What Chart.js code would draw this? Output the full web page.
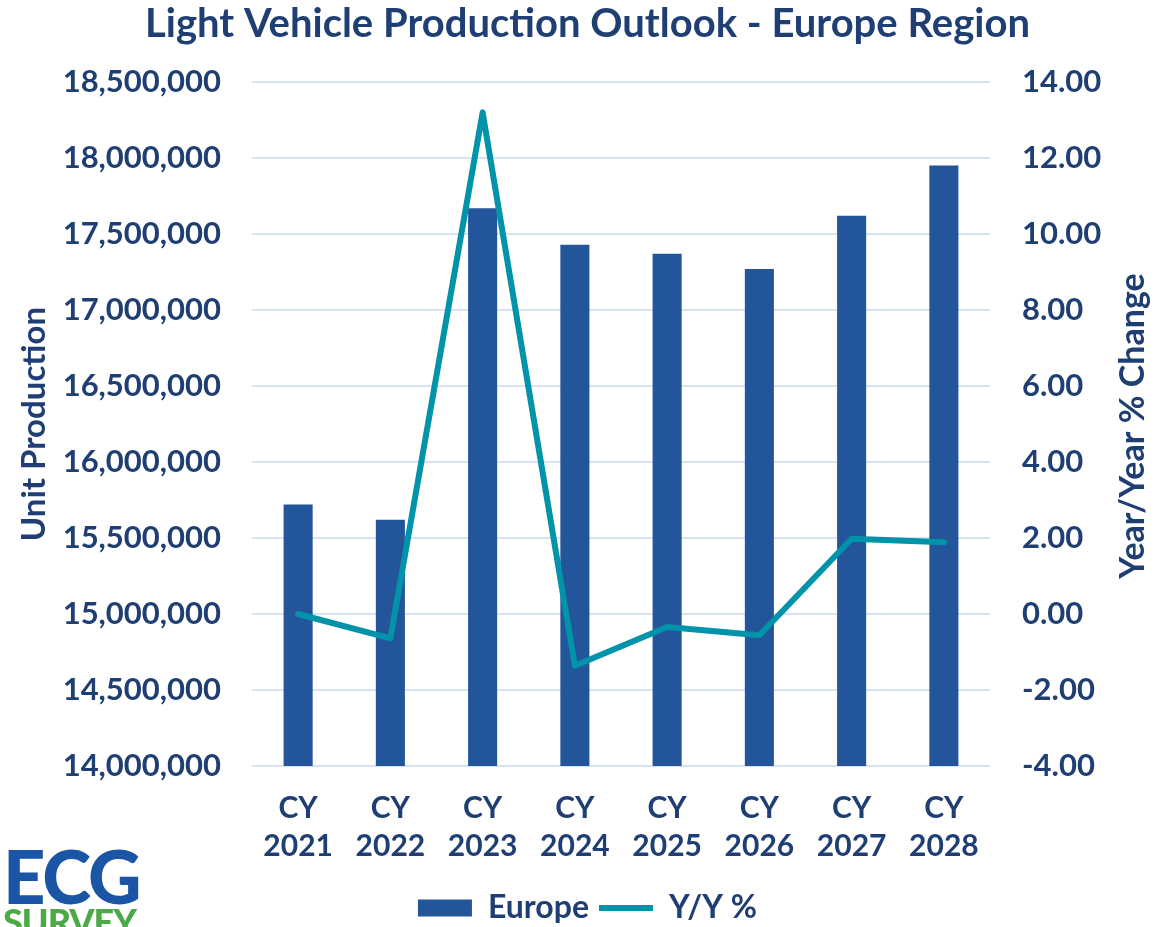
<!DOCTYPE html>
<html>
<head>
<meta charset="utf-8">
<title>Light Vehicle Production Outlook - Europe Region</title>
<script src="https://cdn.jsdelivr.net/npm/chart.js@4.4.1/dist/chart.umd.min.js"></script>
<style>
  html, body { margin: 0; padding: 0; background: #fff; overflow: hidden; }
  #wrap { position: relative; width: 1175px; height: 927px; overflow: hidden; }
  #grafico { position: absolute; left: 0; top: 0; }
  .logo { position: absolute; left: 3px; font-family: Lato, sans-serif; line-height: 1; white-space: nowrap; }
  #logoEcg { top: 839px; font-size: 74px; font-weight: 900; color: #1A55A6; letter-spacing: -2px; }
  #logoSurvey { top: 903px; font-size: 36px; font-weight: 900; color: #4CAA45; letter-spacing: -1px; }
</style>
</head>
<body>
<div id="wrap">
  <canvas id="grafico" width="1175" height="927"></canvas>
  <div class="logo" id="logoEcg">ECG</div>
  <div class="logo" id="logoSurvey">SURVEY</div>
</div>
<script>
// Dados
const anos = [['CY', '2021'], ['CY', '2022'], ['CY', '2023'], ['CY', '2024'],
              ['CY', '2025'], ['CY', '2026'], ['CY', '2027'], ['CY', '2028']];
const producaoEuropa = [15720000, 15620000, 17670000, 17430000, 17370000, 17270000, 17620000, 17950000];
const variacaoAnual = [0.0, -0.64, 13.2, -1.36, -0.34, -0.56, 1.98, 1.89];

// Eixos
const eixoEsqMin = 14000000, eixoEsqMax = 18500000, eixoEsqPasso = 500000;
const eixoDirMin = -4, eixoDirMax = 14, eixoDirPasso = 2;

const corTexto = '#1F3F74';
const corBarra = '#23559A';
const corLinha = '#0093A9';
const corGrade = '#D9E2F3';
const fonte = 'Lato, "Open Sans", sans-serif';

// Título do eixo direito (lido de baixo para cima, como no original)
const tituloDireita = {
    id: 'tituloDireita',
    afterDraw(chart) {
        const ctx = chart.ctx;
        const area = chart.chartArea;
        ctx.save();
        ctx.translate(1133, (area.top + area.bottom) / 2 + 2);
        ctx.rotate(-Math.PI / 2);
        ctx.fillStyle = corTexto;
        ctx.font = 'bold 34px ' + fonte;
        ctx.textAlign = 'center';
        ctx.textBaseline = 'middle';
        ctx.fillText('Year/Year % Change', 0, 0);
        ctx.restore();
    }
};

const ctx = document.getElementById('grafico').getContext('2d');
new Chart(ctx, {
    type: 'bar',
    data: {
        labels: anos,
        datasets: [{
            label: 'Europe',
            data: producaoEuropa,
            backgroundColor: corBarra,
            borderWidth: 0,
            yAxisID: 'y',
            order: 2,
            pointStyle: 'rect',
            categoryPercentage: 1,
            barPercentage: 0.315
        }, {
            type: 'line',
            label: 'Y/Y %',
            data: variacaoAnual,
            borderColor: corLinha,
            backgroundColor: corLinha,
            borderWidth: 6,
            borderCapStyle: 'round',
            borderJoinStyle: 'round',
            pointRadius: 0,
            pointStyle: 'line',
            tension: 0,
            yAxisID: 'y1',
            order: 1
        }]
    },
    options: {
        responsive: false,
        animation: false,
        layout: { padding: { top: 0, left: 0, right: 0, bottom: -7 } },
        plugins: {
            title: {
                display: true,
                text: 'Light Vehicle Production Outlook - Europe Region',
                color: corTexto,
                font: { family: fonte, size: 40, weight: 'bold', lineHeight: 1.2 },
                padding: { top: 0, bottom: 34 }
            },
            legend: {
                position: 'bottom',
                labels: {
                    color: corTexto,
                    font: { family: fonte, size: 32, weight: 'bold' },
                    usePointStyle: true,
                    pointStyleWidth: 54,
                    boxHeight: 17,
                    padding: 10,
                    sort: (a, b) => a.datasetIndex - b.datasetIndex
                }
            },
            tooltip: { enabled: false }
        },
        scales: {
            x: {
                offset: true,
                grid: { display: false, drawTicks: false },
                border: { display: false },
                ticks: {
                    color: corTexto,
                    padding: 23,
                    maxRotation: 0,
                    font: { family: fonte, size: 30, weight: 'bold', lineHeight: 1.27 }
                },
                afterFit(scale) { scale.height = 116; }
            },
            y: {
                position: 'left',
                min: eixoEsqMin,
                max: eixoEsqMax,
                grid: { color: corGrade, lineWidth: 2, drawTicks: false },
                border: { display: false },
                ticks: {
                    stepSize: eixoEsqPasso,
                    color: corTexto,
                    padding: 31,
                    font: { family: fonte, size: 31, weight: 'bold' },
                    callback: v => v.toLocaleString('en-US')
                },
                title: {
                    display: true,
                    text: 'Unit Production',
                    color: corTexto,
                    font: { family: fonte, size: 33, weight: 'bold', lineHeight: 1.2 },
                    padding: { top: 15, bottom: 0 }
                },
                afterFit(scale) { scale.width = 252; }
            },
            y1: {
                position: 'right',
                min: eixoDirMin,
                max: eixoDirMax,
                grid: { drawOnChartArea: false, drawTicks: false },
                border: { display: false },
                ticks: {
                    stepSize: eixoDirPasso,
                    color: corTexto,
                    padding: 32,
                    font: { family: fonte, size: 31, weight: 'bold' },
                    callback: v => v.toFixed(2)
                },
                afterFit(scale) { scale.width = 185; }
            }
        }
    },
    plugins: [tituloDireita]
});
</script>
</body>
</html>
